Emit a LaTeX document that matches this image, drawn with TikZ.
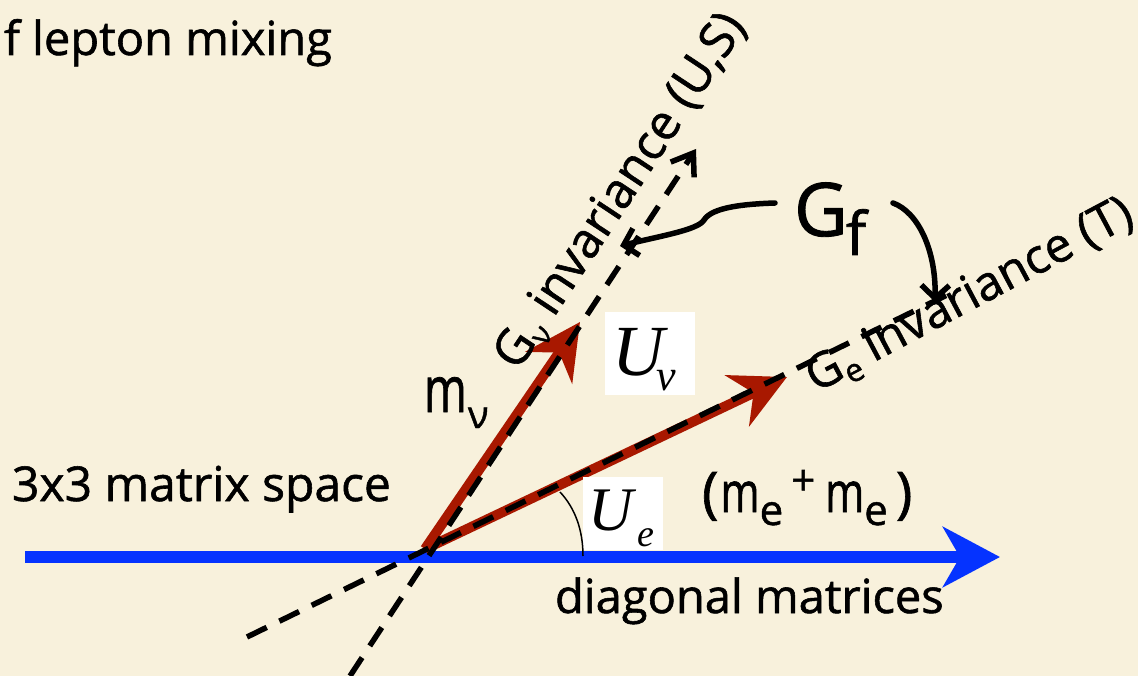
\documentclass[tikz,border=0pt]{standalone}
\usepackage{fontspec}
\setmainfont{Open Sans}[UprightFeatures={FakeBold=1.2}]
\newfontfamily\mathlike{Liberation Serif}
\usetikzlibrary{arrows.meta}
\definecolor{bgcream}{HTML}{F8F1DC}
\definecolor{vecred}{HTML}{A81800}
\definecolor{axisblue}{HTML}{0533FF}
\newcommand{\nm}{\scalebox{0.75}[1]{m}}
\tikzset{
  lbl/.style={anchor=base west, inner sep=0pt, outer sep=0pt},
  vec/.style={vecred, line width=10pt, -{Stealth[length=55pt,width=56pt,inset=18pt]}},
  dline/.style={black, line width=5.5pt, dash pattern=on 22pt off 14pt},
  curvearrow/.style={black, line width=5.5pt, line cap=round, -{Straight Barb[length=13pt,width=28pt]}},
  ubox/.style={fill=white, inner sep=0pt, anchor=north west},
}
\begin{document}
\begin{tikzpicture}[x=1pt,y=-1pt]
\fill[bgcream] (0,0) rectangle (1138,676);
\useasboundingbox (0,0) rectangle (1138,676);
% key points
\coordinate (O) at (425,549);
\coordinate (Bs) at (25,557);
\coordinate (Bt) at (1000,557);
\coordinate (Nt) at (580,322);
\coordinate (Et) at (787,377);
\coordinate (L1a) at (350,676);
\coordinate (L1b) at (696,149);
\coordinate (L2a) at (247,637);
\coordinate (L2b) at (947,295);
% axis and vectors
\draw[axisblue, line width=12pt, -{Stealth[length=57pt,width=60pt,inset=17pt]}] (Bs) -- (Bt);
\draw[vec] (O) -- (Nt);
\draw[vec] (O) -- (Et);
\draw[dline, -{Straight Barb[length=20pt,width=28pt]}] (L1a) -- (L1b);
\draw[dline] (L2a) -- (L2b);
% U boxes
\node[ubox, minimum width=90pt, minimum height=83pt] (unubox) at (605,312) {};
\node[lbl, font=\mathlike\itshape\fontsize{72}{72}\selectfont] (Unu) at (612,375) {U};
\node[lbl, font=\mathlike\itshape\fontsize{44}{44}\selectfont] (Unusub) at (656,390) {ν};
\node[ubox, minimum width=80pt, minimum height=73pt] (uebox) at (583,477) {};
\node[lbl, font=\mathlike\itshape\fontsize{62}{62}\selectfont] (Ue) at (588,530) {U};
\node[lbl, font=\mathlike\itshape\fontsize{38}{38}\selectfont] (Uesub) at (637,546) {e};
\coordinate (arcA) at (560,492);
\coordinate (arcB) at (583,556);
\draw[line width=1.5pt] (arcA) .. controls (575,508) and (583,530) .. (arcB);
% G_f and its arrows
\node[lbl, font=\fontsize{74}{74}\selectfont] (Gf) at (794,236) {G};
\node[lbl, font=\fontsize{60}{60}\selectfont] (fsub) at (846,255) {f};
\coordinate (gl) at (775,203);
\coordinate (gr) at (893,203);
\coordinate (nuinv) at (620,246);
\coordinate (einv) at (935,302);
\draw[curvearrow] (gl) .. controls (745,204) and (712,207) .. (704,220) .. controls (698,230) and (660,236) .. (nuinv);
\draw[curvearrow] (gr) .. controls (918,212) and (936,250) .. (einv);
% texts
\node[lbl, font=\fontsize{47}{50}\selectfont] (title) at (4,55) {f lepton mixing};
\node[lbl, font=\fontsize{48}{50}\selectfont] (space) at (12,501) {3x3 matrix space};
\node[lbl, font=\fontsize{47}{50}\selectfont] (diag) at (555,613) {diagonal matrices};
\node[lbl, font=\fontsize{56}{56}\selectfont] (meme) at (702,512) {(\hspace{2pt}\nm\raisebox{-13pt}{\fontsize{42}{42}\selectfont e}\hspace{8pt}\raisebox{17pt}{\fontsize{42}{42}\selectfont +}\hspace{10pt}\nm\raisebox{-13pt}{\fontsize{42}{42}\selectfont e}\hspace{8pt})};
\node[lbl, font=\fontsize{64}{64}\selectfont] (mnu) at (424,412) {\scalebox{0.72}[1]{m}};
\node[lbl, font=\fontsize{38}{38}\selectfont] (mnusub) at (468,428) {ν};
\node[lbl, rotate=56.5, font=\fontsize{49}{49}\selectfont] (gnu) at (518,372) {G\raisebox{-9pt}{\fontsize{30}{30}\selectfont ν} invariance (U,S)};
\node[lbl, rotate=28, font=\fontsize{48}{48}\selectfont] (ge) at (816,393) {G\raisebox{-9pt}{\fontsize{32}{32}\selectfont e} invariance (T)};
\end{tikzpicture}
\end{document}
